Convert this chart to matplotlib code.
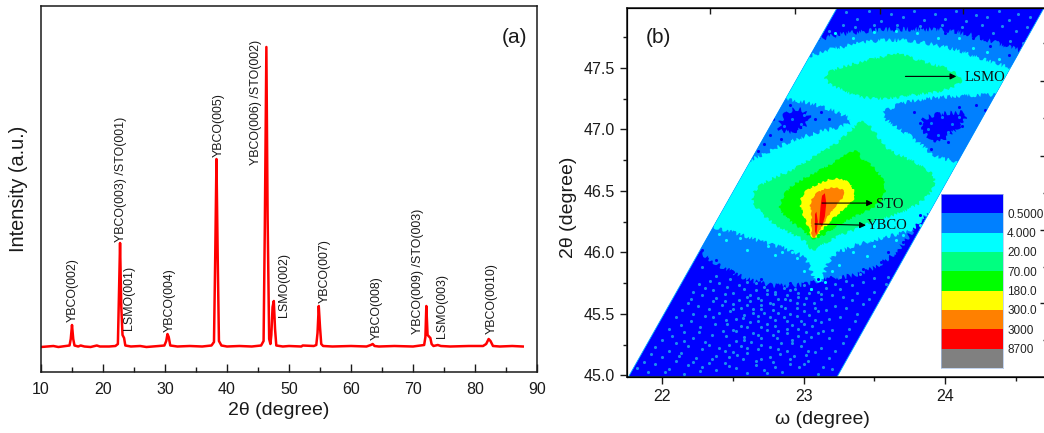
import matplotlib
matplotlib.use('Agg')
import matplotlib.pyplot as plt
from matplotlib.colors import ListedColormap
from matplotlib.patches import PathPatch
from matplotlib.path import Path

plt.rcParams['font.family'] = ['Liberation Sans', 'DejaVu Sans']
ink = '#1a1a1a'

# panel (a): diffraction scan
scan_x = [10, 11, 12, 12.8, 14, 14.6, 14.8, 15.0, 15.2, 15.4, 16, 16.4, 17, 18, 19, 19.5, 21, 22, 22.4, 22.6,
          22.75, 22.95, 23.15, 23.4, 23.6, 24.5, 26, 27, 28, 29, 29.9, 30.2, 30.4, 30.6, 30.85, 32, 34, 36, 37.5,
          37.9, 38.1, 38.3, 38.5, 38.7, 39.1, 40, 42, 44, 45.5, 45.9, 46.1, 46.35, 46.55, 46.8, 47.0, 47.15, 47.35,
          47.55, 47.75, 47.95, 49, 50, 52, 52.2, 54, 54.4, 54.6, 54.8, 55.0, 55.2, 55.5, 57, 60, 62.5, 63.2, 63.5,
          63.8, 64.5, 67, 70, 71.8, 72.0, 72.15, 72.35, 72.5, 72.8, 73, 73.3, 74, 74.5, 76, 79, 81.3, 81.8, 82.2,
          82.5, 82.9, 84, 86, 87.7]
scan_y = [0, 0.5, 1, 0, 1, 1.5, 8, 22, 8, 1.5, 0.5, 1.5, 0.5, 0, 1.5, 0.5, 0.5, 1, 3, 60,
          104, 40, 12, 9, 1.5, 0.5, 1, 0, 0.5, 1, 1.5, 6, 13, 10, 1.5, 0.5, 1, 0.5, 1.5,
          5, 90, 188, 90, 6, 1.5, 0.5, 1, 0.5, 1.5, 6, 120, 300, 130, 8, 3, 12, 40,
          46, 18, 1.5, 0.5, 1, 0.5, 1.5, 1, 2, 14, 41, 20, 3, 1, 0.5, 1, 0.5, 2, 3,
          1, 0.5, 1, 0.5, 2, 10, 41, 12, 11, 9, 3, 1, 2, 1, 0.5, 1, 1, 3, 8,
          6, 1, 0.5, 1, 0.5]

peak_names = ['YBCO(002)', 'YBCO(003) /STO(001)', 'LSMO(001)', 'YBCO(004)', 'YBCO(005)', 'YBCO(006) /STO(002)',
              'LSMO(002)', 'YBCO(007)', 'YBCO(008)', 'YBCO(009) /STO(003)', 'LSMO(003)', 'YBCO(0010)']
peak_x = [15.2, 22.85, 24.2, 30.85, 38.65, 44.7, 49.2, 55.75, 64.1, 70.85, 74.75, 82.75]
peak_y = [24.6, 104.6, 17, 14.6, 190, 181.6, 30, 44, 7, 13, 9, 13]

# panel (b): reciprocal space map, regions outlined per intensity level
band_w = [21.76, 23.236, 24.70, 23.236]
band_t = [44.986, 47.986, 47.986, 44.986]

level_labels = ['0.5000', '4.000', '20.00', '70.00', '180.0', '300.0', '3000', '8700']
level_colors = ['#0000ff', '#0080ff', '#00ffff', '#00ff80', '#00ff00', '#ffff00', '#ff8000', '#ff0000', '#808080']

midblue_w = [22.6, 22.95, 23.14, 23.40, 23.76, 24.11, 24.42, 24.82, 24.82, 23.99, 23.85, 23.73, 23.59, 23.40, 23.27,
             23.14, 22.93, 22.69, 22.46, 22.29, 22.17]
midblue_t = [47.75, 47.66, 47.75, 47.80, 47.82, 47.80, 47.68, 47.55, 47.24, 46.32, 46.32, 46.10, 45.93, 45.82, 45.80,
             45.78, 45.72, 45.74, 45.85, 45.98, 46.10]

patch_left_w = [22.81, 22.86, 22.95, 23.05, 23.02, 22.90]
patch_left_t = [47.00, 47.12, 47.18, 47.12, 47.02, 46.97]
patch_right_w = [23.83, 24.06, 24.18, 24.06, 23.94, 23.85]
patch_right_t = [47.10, 47.14, 47.13, 46.97, 46.89, 46.97]

cyan_w = [22.93, 23.09, 23.33, 23.64, 23.99, 24.25, 24.44, 24.70, 24.58, 24.32, 24.06, 23.78, 23.59, 23.55, 23.68,
          23.85, 23.94, 24.23, 24.11, 23.90, 23.78, 23.64, 23.35, 23.19, 23.14, 23.10, 23.06, 23.02, 22.88, 22.69,
          22.46, 22.32, 22.50, 22.64, 22.85, 23.07, 23.30, 23.35, 23.26, 23.12, 22.93, 22.79]
cyan_t = [47.54, 47.62, 47.69, 47.74, 47.68, 47.58, 47.50, 47.48, 47.28, 47.28, 47.27, 47.24, 47.17, 47.10, 47.01,
          46.86, 46.76, 46.72, 46.40, 46.36, 46.18, 46.14, 46.06, 45.97, 45.82, 45.72, 45.82, 45.96, 46.03, 46.09,
          46.18, 46.21, 46.72, 46.75, 46.88, 46.97, 47.03, 47.07, 47.13, 47.19, 47.24, 47.24]

lsmo_w = [23.13, 23.19, 23.35, 23.54, 23.68, 23.83, 24.02, 24.15, 24.00, 23.78, 23.61, 23.43, 23.28]
lsmo_t = [47.41, 47.48, 47.53, 47.59, 47.62, 47.55, 47.50, 47.40, 47.31, 47.28, 47.25, 47.25, 47.31]

spring_w = [22.63, 22.67, 22.79, 22.93, 23.07, 23.24, 23.42, 23.50, 23.60, 23.75, 23.95, 23.88, 23.70, 23.50,
            23.38, 23.26, 23.14, 23.06, 23.01, 22.91, 22.76, 22.67]
spring_t = [46.45, 46.53, 46.61, 46.67, 46.78, 46.88, 47.10, 46.98, 46.82, 46.76, 46.62, 46.44, 46.32, 46.26,
            46.19, 46.14, 46.07, 46.00, 46.10, 46.15, 46.25, 46.35]

green_w = [22.82, 22.88, 22.98, 23.14, 23.28, 23.38, 23.41, 23.50, 23.60, 23.52, 23.35, 23.24, 23.14, 23.06, 23.03,
           22.93, 22.86]
green_t = [46.37, 46.51, 46.59, 46.68, 46.78, 46.84, 46.75, 46.70, 46.52, 46.37, 46.29, 46.21, 46.14, 46.10, 46.15,
           46.23, 46.30]

yellow_w = [22.97, 23.00, 23.09, 23.19, 23.28, 23.35, 23.37, 23.31, 23.24, 23.14, 23.07, 23.04, 23.00]
yellow_t = [46.40, 46.49, 46.55, 46.60, 46.60, 46.53, 46.45, 46.38, 46.31, 46.20, 46.09, 46.18, 46.29]

orange_w = [23.04, 23.09, 23.19, 23.27, 23.30, 23.24, 23.17, 23.11, 23.07, 23.05, 23.06]
orange_t = [46.40, 46.49, 46.53, 46.52, 46.47, 46.40, 46.29, 46.18, 46.10, 46.18, 46.29]

red_sto_w = [23.12, 23.13, 23.15, 23.16, 23.15, 23.13, 23.11]
red_sto_t = [46.38, 46.46, 46.48, 46.40, 46.29, 46.21, 46.24]
red_ybco_w = [23.08, 23.09, 23.10, 23.09, 23.08]
red_ybco_t = [46.31, 46.33, 46.25, 46.14, 46.17]

# speckle, (omega, 2theta)
speck_lower = [
    (21.9, 45.03), (22.15, 45.01), (22.38, 45.04), (22.6, 45.02), (22.85, 45.03), (23.1, 45.01), (21.82, 45.06),
    (22.05, 45.05), (22.28, 45.07), (22.52, 45.06), (22.72, 45.04), (22.97, 45.07), (23.2, 45.05), (21.95, 45.09),
    (22.18, 45.08), (22.44, 45.1), (22.66, 45.08), (22.9, 45.09), (23.14, 45.07), (21.87, 45.11), (22.1, 45.12),
    (22.33, 45.1), (22.57, 45.13), (22.78, 45.11), (23.03, 45.12), (22.0, 45.15), (22.24, 45.14), (22.47, 45.15),
    (22.7, 45.13), (22.93, 45.16), (23.18, 45.14), (21.92, 45.17), (22.13, 45.18), (22.38, 45.16), (22.6, 45.18),
    (22.83, 45.17), (23.08, 45.19), (22.05, 45.2), (22.28, 45.21), (22.5, 45.19), (22.68, 45.21), (22.88, 45.2),
    (23.22, 45.2), (21.95, 45.23), (22.18, 45.24), (22.4, 45.22), (22.56, 45.24), (22.76, 45.23), (22.98, 45.24),
    (23.12, 45.22), (22.1, 45.26), (22.3, 45.27), (22.47, 45.25), (22.63, 45.27), (22.84, 45.26), (23.0, 45.28),
    (23.28, 45.26), (22.0, 45.29), (22.22, 45.3), (22.52, 45.28), (22.7, 45.3), (22.92, 45.29), (23.18, 45.3),
    (22.07, 45.32), (22.35, 45.33), (22.58, 45.31), (22.78, 45.33), (22.96, 45.32), (23.1, 45.34), (23.3, 45.32),
    (22.15, 45.35), (22.43, 45.36), (22.64, 45.34), (22.82, 45.36), (23.02, 45.35), (23.2, 45.37), (22.05, 45.38),
    (22.27, 45.39), (22.5, 45.37), (22.7, 45.39), (22.88, 45.38), (23.06, 45.4), (23.32, 45.38), (22.13, 45.41),
    (22.37, 45.42), (22.56, 45.4), (22.74, 45.42), (22.92, 45.41), (23.12, 45.43), (22.2, 45.44), (22.45, 45.45),
    (22.62, 45.43), (22.8, 45.45), (22.98, 45.44), (23.18, 45.46), (23.36, 45.44), (22.1, 45.47), (22.3, 45.48),
    (22.52, 45.46), (22.68, 45.48), (22.86, 45.47), (23.04, 45.49), (23.26, 45.47), (22.22, 45.5), (22.4, 45.51),
    (22.58, 45.49), (22.72, 45.51), (22.9, 45.5), (23.1, 45.52), (23.38, 45.5), (22.14, 45.53), (22.33, 45.54),
    (22.48, 45.52), (22.64, 45.54), (22.78, 45.53), (22.95, 45.55), (23.16, 45.53), (23.3, 45.55), (22.25, 45.56),
    (22.42, 45.57), (22.56, 45.55), (22.7, 45.57), (22.84, 45.56), (23.0, 45.58), (23.22, 45.56), (23.42, 45.58),
    (22.18, 45.59), (22.36, 45.6), (22.5, 45.58), (22.62, 45.6), (22.76, 45.59), (22.9, 45.61), (23.07, 45.59),
    (23.34, 45.61), (22.2, 45.62), (22.38, 45.63), (22.54, 45.61), (22.68, 45.63), (22.82, 45.62), (22.96, 45.64),
    (23.12, 45.62), (23.28, 45.64), (23.46, 45.62), (22.28, 45.65), (22.44, 45.66), (22.6, 45.64), (22.74, 45.66),
    (22.88, 45.65), (23.04, 45.67), (23.2, 45.65), (23.38, 45.67), (22.22, 45.68), (22.36, 45.69), (22.5, 45.67),
    (22.66, 45.69), (22.8, 45.68), (22.94, 45.7), (23.1, 45.68), (23.26, 45.7), (23.5, 45.68), (22.3, 45.71),
    (22.46, 45.72), (22.58, 45.7), (22.72, 45.72), (22.86, 45.71), (23.0, 45.73), (23.16, 45.71), (23.34, 45.73),
    (22.26, 45.74), (22.4, 45.75), (22.54, 45.73), (22.66, 45.75), (23.22, 45.74), (23.42, 45.76), (23.58, 45.74),
    (22.34, 45.77), (22.48, 45.78), (22.6, 45.76), (23.3, 45.77), (23.5, 45.79), (22.38, 45.81), (23.26, 45.8),
    (23.4, 45.82), (23.6, 45.8), (23.68, 45.86), (23.72, 45.95), (23.78, 46.03), (22.28, 45.88), (22.2, 45.93),
    # between the rows, denser around omega 22.7
    (22.02, 45.025), (22.27, 45.035), (22.74, 45.015), (22.47, 45.075), (22.8, 45.065), (23.0, 45.095), (22.22, 45.105),
    (22.66, 45.115), (22.9, 45.135), (22.35, 45.13), (22.12, 45.155), (22.53, 45.165), (22.76, 45.15), (23.02, 45.165),
    (22.44, 45.2), (22.6, 45.225), (22.82, 45.21), (23.03, 45.2), (22.33, 45.245), (22.7, 45.25), (22.92, 45.265),
    (22.58, 45.29), (22.15, 45.28), (22.81, 45.3), (23.05, 45.31), (22.45, 45.32), (22.68, 45.33), (22.88, 45.345),
    (22.26, 45.35), (22.52, 45.36), (22.74, 45.37), (22.96, 45.375), (23.14, 45.36), (22.6, 45.395), (22.8, 45.4),
    (23.0, 45.42), (22.46, 45.42), (22.68, 45.44), (22.88, 45.44), (23.08, 45.45), (22.57, 45.465), (22.76, 45.47),
    (22.95, 45.48), (22.36, 45.47), (22.64, 45.505), (22.82, 45.51), (23.0, 45.52), (22.5, 45.535), (22.7, 45.54),
    (22.87, 45.545), (23.08, 45.55), (22.6, 45.575), (22.78, 45.58), (22.95, 45.59), (22.44, 45.6), (22.7, 45.61),
    (22.87, 45.62), (23.02, 45.63), (22.62, 45.655), (22.8, 45.66), (22.96, 45.665), (23.12, 45.66), (22.74, 45.69),
    (22.9, 45.69), (23.05, 45.7),
    # top of the band
    (23.3, 47.95), (23.38, 47.9), (23.46, 47.96), (23.55, 47.88), (23.62, 47.94), (23.7, 47.91), (23.78, 47.96),
    (23.85, 47.89), (23.93, 47.94), (24.0, 47.9), (24.08, 47.96), (24.15, 47.88), (24.22, 47.93), (24.3, 47.91),
    (24.38, 47.96), (24.45, 47.89), (24.52, 47.94), (24.6, 47.91), (23.28, 47.85), (23.36, 47.83), (23.5, 47.85),
    (23.66, 47.85), (23.82, 47.84), (23.98, 47.85), (24.12, 47.83), (24.26, 47.85), (24.4, 47.84), (24.5, 47.8),
    (24.58, 47.83), (24.34, 47.78), (24.46, 47.72), (24.55, 47.7), (23.18, 47.8), (23.1, 47.76), (24.62, 47.76)]

speck_deep = [
    (22.76, 46.95), (22.78, 47.08), (22.84, 46.92), (22.72, 46.88), (23.08, 47.08), (23.12, 47.14), (22.9, 47.2),
    (22.68, 46.82), (23.18, 47.08), (23.78, 47.14), (23.82, 47.05), (24.1, 47.18), (24.22, 47.2), (24.28, 47.16),
    (24.02, 46.9), (23.9, 46.84), (24.12, 47.03), (23.2, 47.82), (23.46, 47.84), (23.75, 47.84), (24.0, 47.78),
    (24.2, 47.74), (24.32, 47.68), (24.45, 47.6), (23.82, 46.3), (23.7, 46.08), (23.55, 45.92), (23.42, 45.86),
    (23.1, 45.78), (22.9, 45.75), (22.7, 45.78), (22.5, 45.84), (22.38, 45.94), (22.28, 46.02), (23.6, 46.0)]

speck_midblue_patch = [
    (22.86, 47.03), (22.92, 47.08), (22.98, 47.04), (22.9, 47.15), (23.0, 47.12), (22.96, 46.99), (22.84, 47.09),
    (23.9, 47.05), (23.98, 47.1), (24.05, 47.04), (24.1, 47.1), (23.95, 46.95), (24.02, 46.98), (23.88, 47.0)]

speck_cyan = [
    (23.0, 45.85), (23.2, 45.85), (22.95, 45.95), (23.25, 45.9), (22.8, 45.98), (23.35, 46.0), (22.6, 46.02),
    (23.5, 46.05), (22.45, 46.1), (23.65, 46.1), (23.05, 45.7), (23.15, 45.76), (22.85, 46.0), (23.45, 45.97),
    (23.22, 47.78), (23.5, 47.79), (23.8, 47.78), (24.1, 47.74), (24.3, 47.63), (23.35, 47.74), (23.65, 47.8),
    (23.95, 47.74), (24.2, 47.66), (24.38, 47.57), (22.9, 46.84), (22.75, 46.78), (23.1, 46.93), (23.28, 47.0),
    (24.2, 47.31), (24.0, 47.3), (23.78, 47.27), (24.35, 47.32), (23.62, 47.2), (23.72, 46.97), (23.88, 46.8),
    (22.62, 46.78), (22.48, 46.7), (22.4, 46.15), (22.55, 46.12), (22.75, 46.05), (22.92, 46.0), (23.28, 46.02),
    (23.48, 46.1), (23.7, 46.14), (23.82, 46.22), (23.85, 46.38), (23.05, 47.27), (22.85, 47.27)]

right_major = [47.39, 46.78, 46.18, 45.585]
right_minor = [47.70, 47.09, 46.48, 45.88, 45.29]
top_major = [22.34, 22.94, 23.54, 24.13]

arrow_names = ['LSMO', 'STO', 'YBCO']
arrow_start_w = [23.72, 23.13, 23.08]
arrow_start_t = [47.43, 46.40, 46.23]
arrow_end_w = [24.08, 23.49, 23.44]
arrow_end_t = [47.43, 46.40, 46.22]
name_w = [24.14, 23.51, 23.45]
name_t = [47.42, 46.39, 46.22]


def smooth_region(w, t):
    # rounded outline: the read points act as curve controls
    pts = list(zip(w, t))
    mids = [((a[0] + b[0]) / 2, (a[1] + b[1]) / 2) for a, b in zip(pts, pts[1:] + pts[:1])]
    verts = [mids[-1]]
    codes = [Path.MOVETO]
    for p, m in zip(pts, mids):
        verts += [p, m]
        codes += [Path.CURVE3, Path.CURVE3]
    return Path(verts, codes)


fig = plt.figure(figsize=(10.44, 4.33), dpi=100)

# (a)
ax = fig.add_axes([41/1044, 61/433, 496/1044, 366/433])
ax.plot(scan_x, scan_y, color='#ff0000', lw=1.8, solid_joinstyle='round')
ax.set_xlim(10, 90)
ax.set_ylim(-25, 341)
ax.set_yticks([])
ax.set_xticks(range(10, 91, 10))
ax.set_xticks(range(15, 90, 10), minor=True)
ax.tick_params(axis='x', which='major', direction='in', length=5.5, width=1, colors=ink, labelsize=11.5, pad=7)
ax.tick_params(axis='x', which='minor', direction='in', length=3.5, width=1, colors=ink)
ax.set_xlabel('2θ (degree)', fontsize=14, color=ink, labelpad=4, x=0.48)
ax.set_ylabel('Intensity (a.u.)', fontsize=14.3, color=ink, labelpad=9)
for s in ax.spines.values():
    s.set_linewidth(1.1)
    s.set_color(ink)
for name, x, y in zip(peak_names, peak_x, peak_y):
    ax.text(x, y, name, rotation=90, ha='center', va='bottom', fontsize=8.9, color=ink)
ax.text(0.98, 0.915, '(a)', transform=ax.transAxes, ha='right', va='center', fontsize=15, color=ink)

# (b)
bx = fig.add_axes([627/1044, 56/433, 424/1044, 369/433])
bx.set_xlim(21.75, 24.75)
bx.set_ylim(44.986, 47.986)
band = bx.fill(band_w, band_t, facecolor=level_colors[0], edgecolor='#00b0ff', lw=0.6, zorder=1)[0]

regions = [(midblue_w, midblue_t, 1, 2.5), (patch_left_w, patch_left_t, 0, 2.5), (patch_right_w, patch_right_t, 0, 2.5),
           (cyan_w, cyan_t, 2, 2.0), (lsmo_w, lsmo_t, 3, 1.5), (spring_w, spring_t, 3, 1.5), (green_w, green_t, 4, 1.2),
           (yellow_w, yellow_t, 5, 1.0), (orange_w, orange_t, 6, 0.7)]
for w, t, lev, rough in regions:
    p = PathPatch(smooth_region(w, t), facecolor=level_colors[lev], lw=0, zorder=2)
    bx.add_patch(p)
    p.set_clip_path(band)
    p.set_sketch_params(scale=rough, length=5, randomness=6)
bx.fill(red_sto_w, red_sto_t, color=level_colors[7], lw=0, zorder=2)
bx.fill(red_ybco_w, red_ybco_t, color=level_colors[7], lw=0, zorder=2)

speck_sets = [(speck_deep, level_colors[0]), (speck_lower, '#1b8cf0'), (speck_midblue_patch, '#0080ff'),
              (speck_cyan, level_colors[2])]
for pts, col in speck_sets:
    w, t = zip(*pts)
    dots = bx.scatter(w, t, s=5, marker='o', color=col, lw=0, zorder=3)
    dots.set_clip_path(band)

for i, name in enumerate(arrow_names):
    bx.annotate('', xy=(arrow_end_w[i], arrow_end_t[i]), xytext=(arrow_start_w[i], arrow_start_t[i]),
                arrowprops=dict(arrowstyle='-|>', color='black', lw=0.8, mutation_scale=9, shrinkA=0, shrinkB=0), zorder=5)
    bx.text(name_w[i], name_t[i], name, family='Liberation Serif', fontsize=10.5, color='#101010', va='center', zorder=5)

bx.set_xticks([22, 23, 24])
bx.set_xticks([22.5, 23.5, 24.5], minor=True)
bx.set_yticks([45.0, 45.5, 46.0, 46.5, 47.0, 47.5])
bx.set_yticklabels(['45.0', '45.5', '46.0', '46.5', '47.0', '47.5'])
bx.set_yticks([45.25, 45.75, 46.25, 46.75, 47.25, 47.75], minor=True)
bx.tick_params(axis='both', which='major', direction='out', length=5, width=1, colors=ink, labelsize=11.5)
bx.tick_params(axis='both', which='minor', direction='out', length=3, width=1, colors=ink)
bx.set_xlabel('ω (degree)', fontsize=14, color=ink, labelpad=5, x=0.462)
bx.set_ylabel('2θ (degree)', fontsize=14, color=ink, labelpad=5, y=0.46)
for s in bx.spines.values():
    s.set_linewidth(1.1)
    s.set_color(ink)
bx.text(0.073, 0.92, '(b)', transform=bx.transAxes, ha='center', va='center', fontsize=15, color=ink, zorder=6)

# other ticks on the top and right sides of the map
tx = bx.twiny()
tx.set_xlim(bx.get_xlim())
tx.set_xticks(top_major)
tx.set_xticklabels([])
tx.tick_params(axis='x', direction='in', length=4, width=1, colors=ink)
rx = bx.twinx()
rx.set_ylim(bx.get_ylim())
rx.set_yticks(right_major)
rx.set_yticks(right_minor, minor=True)
rx.set_yticklabels([])
rx.tick_params(axis='y', which='major', direction='in', length=8, width=1, colors=ink)
rx.tick_params(axis='y', which='minor', direction='in', length=5.5, width=1, colors=ink)

# colour scale
cx = fig.add_axes([941/1044, 65/433, 62/1044, 174/433])
cmap = ListedColormap(level_colors)
cx.pcolormesh([0, 1], list(range(len(level_colors) + 1)), [[i] for i in range(len(level_colors))], cmap=cmap)
cx.set_ylim(len(level_colors), 0)
cx.set_xticks([])
cx.yaxis.tick_right()
cx.set_yticks(range(1, len(level_labels) + 1))
cx.set_yticklabels(level_labels, fontsize=8.5, color='#222222')
cx.tick_params(axis='y', length=0, pad=3)
for s in cx.spines.values():
    s.set_linewidth(0.5)
    s.set_color('#a8c0e8')

fig.savefig('out.png', dpi=100, facecolor='white')
print("Saved: out.png")
